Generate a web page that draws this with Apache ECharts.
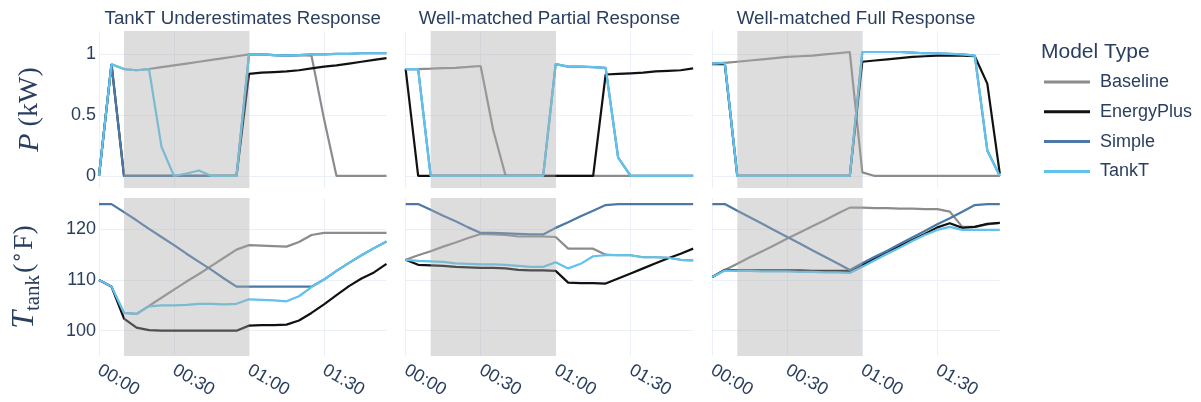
<!DOCTYPE html>
<html>
<head>
<meta charset="utf-8">
<script src="https://cdn.jsdelivr.net/npm/echarts@6/dist/echarts.min.js"></script>
<style>
  html, body { margin: 0; padding: 0; background: #ffffff; }
  #chart { width: 1201px; height: 402px; }
</style>
</head>
<body>
<div id="chart"></div>
<script>
// Sample times (5-minute steps)
const timeLabels = ['00:00','00:05','00:10','00:15','00:20','00:25','00:30','00:35','00:40','00:45','00:50','00:55',
                    '01:00','01:05','01:10','01:15','01:20','01:25','01:30','01:35','01:40','01:45','01:50','01:55'];
const eventWindow = ['00:10', '01:00'];
const panelTitles = ['TankT Underestimates Response', 'Well-matched Partial Response', 'Well-matched Full Response'];
const modelNames = ['Baseline', 'EnergyPlus', 'Simple', 'TankT'];

// Panel 1: TankT underestimates response — power (kW)
const underPowerBaseline   = [0, 0.92, 0.88, 0.87, 0.88, 0.895, 0.91, 0.925, 0.94, 0.955, 0.97, 0.985, 1.0, 1.0, 0.995, 0.99, 0.995, 0.99, 0.47, 0, 0, 0, 0, 0];
const underPowerEnergyPlus = [0, 0.92, 0, 0, 0, 0, 0, 0, 0, 0, 0, 0, 0.84, 0.85, 0.855, 0.86, 0.87, 0.885, 0.9, 0.91, 0.925, 0.94, 0.955, 0.97];
const underPowerSimple     = [0, 0.92, 0, 0, 0, 0, 0, 0, 0, 0, 0, 0, 1.0, 1.0, 0.995, 0.99, 0.995, 1.0, 1.0, 1.005, 1.005, 1.01, 1.01, 1.01];
const underPowerTankT      = [0, 0.92, 0.88, 0.87, 0.88, 0.24, 0, 0.02, 0.045, 0, 0, 0, 1.0, 1.0, 0.995, 0.99, 0.995, 1.0, 1.0, 1.005, 1.005, 1.01, 1.01, 1.01];
// Panel 1 — tank temperature (°F)
const underTempBaseline    = [110, 108.7, 103.5, 103.3, 104.9, 106.5, 108.1, 109.7, 111.2, 112.8, 114.4, 116.0, 116.9, 116.8, 116.7, 116.6, 117.5, 118.9, 119.3, 119.3, 119.3, 119.3, 119.3, 119.3];
const underTempEnergyPlus  = [110, 108.7, 102.4, 100.6, 100.1, 100, 100, 100, 100, 100, 100, 100, 101.0, 101.1, 101.1, 101.2, 102.0, 103.5, 105.2, 107.0, 108.8, 110.3, 111.5, 113.2];
const underTempSimple      = [125, 125, 123.4, 121.8, 120.1, 118.5, 116.9, 115.2, 113.6, 112.0, 110.3, 108.7, 108.7, 108.7, 108.7, 108.7, 108.7, 108.7, 110.1, 111.8, 113.4, 114.9, 116.3, 117.6];
const underTempTankT       = [110, 108.7, 103.5, 103.3, 104.8, 105.0, 105.0, 105.1, 105.3, 105.3, 105.2, 105.3, 106.2, 106.1, 106.0, 105.8, 106.8, 108.6, 110.1, 111.8, 113.4, 114.9, 116.3, 117.6];

// Panel 2: well-matched partial response — power (kW)
const partialPowerBaseline   = [0.88, 0.88, 0.883, 0.887, 0.89, 0.897, 0.905, 0.38, 0, 0, 0, 0, 0, 0, 0, 0, 0, 0, 0, 0, 0, 0, 0, 0];
const partialPowerEnergyPlus = [0.88, 0, 0, 0, 0, 0, 0, 0, 0, 0, 0, 0, 0, 0, 0, 0, 0.835, 0.84, 0.845, 0.85, 0.86, 0.865, 0.87, 0.885];
const partialPowerSimple     = [0.88, 0.88, 0, 0, 0, 0, 0, 0, 0, 0, 0, 0, 0.92, 0.9, 0.9, 0.895, 0.89, 0.15, 0, 0, 0, 0, 0, 0];
const partialPowerTankT      = [0.88, 0.88, 0, 0, 0, 0, 0, 0, 0, 0, 0, 0, 0.92, 0.9, 0.9, 0.895, 0.89, 0.15, 0, 0, 0, 0, 0, 0];
// Panel 2 — tank temperature (°F)
const partialTempBaseline    = [114, 114.9, 115.7, 116.6, 117.4, 118.3, 119.1, 119.0, 118.9, 118.6, 118.6, 118.6, 118.5, 116.2, 116.2, 116.2, 115.0, 114.9, 114.9, 114.5, 114.5, 114.4, 114.0, 113.9];
const partialTempEnergyPlus  = [114, 113.0, 112.9, 112.8, 112.6, 112.5, 112.4, 112.4, 112.3, 112.0, 111.9, 111.9, 111.8, 109.5, 109.4, 109.4, 109.3, 110.3, 111.3, 112.3, 113.3, 114.3, 115.2, 116.2];
const partialTempSimple      = [125, 125, 123.9, 122.7, 121.6, 120.4, 119.3, 119.3, 119.2, 119.1, 119.0, 119.0, 120.3, 121.4, 122.6, 123.7, 124.8, 125, 125, 125, 125, 125, 125, 125];
const partialTempTankT       = [114, 113.8, 113.7, 113.6, 113.3, 113.2, 113.1, 113.1, 113.0, 112.8, 112.6, 112.6, 113.5, 112.3, 113.2, 114.7, 114.9, 114.9, 114.9, 114.5, 114.5, 114.4, 114.0, 113.9];

// Panel 3: well-matched full response — power (kW)
const fullPowerBaseline   = [0.925, 0.93, 0.94, 0.95, 0.96, 0.97, 0.98, 0.985, 0.99, 1.0, 1.01, 1.02, 0.03, 0, 0, 0, 0, 0, 0, 0, 0, 0, 0, 0];
const fullPowerEnergyPlus = [0.92, 0.92, 0, 0, 0, 0, 0, 0, 0, 0, 0, 0, 0.94, 0.95, 0.96, 0.97, 0.98, 0.985, 0.99, 0.99, 0.99, 0.985, 0.76, 0.02];
const fullPowerSimple     = [0.925, 0.93, 0, 0, 0, 0, 0, 0, 0, 0, 0, 0, 1.02, 1.02, 1.02, 1.02, 1.015, 1.01, 1.01, 1.005, 1.0, 0.99, 0.21, 0];
const fullPowerTankT      = [0.925, 0.93, 0, 0, 0, 0, 0, 0, 0, 0, 0, 0, 1.02, 1.02, 1.02, 1.02, 1.015, 1.01, 1.01, 1.005, 1.0, 0.99, 0.21, 0];
// Panel 3 — tank temperature (°F)
const fullTempBaseline    = [110.6, 112.0, 113.2, 114.5, 115.7, 116.9, 118.2, 119.4, 120.6, 121.8, 123.1, 124.3, 124.3, 124.2, 124.2, 124.1, 124.1, 124.0, 124.0, 123.5, 120.5, 120.5, 121.0, 121.3];
const fullTempEnergyPlus  = [110.6, 112.0, 111.9, 111.9, 111.9, 111.9, 111.9, 111.9, 111.8, 111.8, 111.8, 111.8, 113.0, 114.2, 115.5, 116.7, 117.9, 119.1, 120.4, 121.2, 120.3, 120.5, 121.1, 121.3];
const fullTempSimple      = [125, 125, 123.7, 122.4, 121.1, 119.8, 118.5, 117.2, 115.9, 114.6, 113.3, 112.0, 113.3, 114.6, 115.8, 117.1, 118.4, 119.7, 121.0, 122.2, 123.5, 124.8, 125, 125];
const fullTempTankT       = [110.6, 111.9, 111.8, 111.8, 111.7, 111.7, 111.7, 111.6, 111.6, 111.5, 111.5, 111.4, 112.6, 113.9, 115.2, 116.4, 117.7, 118.9, 119.9, 120.5, 119.9, 119.9, 119.9, 119.9];

const panels = [
  { power: [underPowerBaseline, underPowerEnergyPlus, underPowerSimple, underPowerTankT],
    temp:  [underTempBaseline, underTempEnergyPlus, underTempSimple, underTempTankT] },
  { power: [partialPowerBaseline, partialPowerEnergyPlus, partialPowerSimple, partialPowerTankT],
    temp:  [partialTempBaseline, partialTempEnergyPlus, partialTempSimple, partialTempTankT] },
  { power: [fullPowerBaseline, fullPowerEnergyPlus, fullPowerSimple, fullPowerTankT],
    temp:  [fullTempBaseline, fullTempEnergyPlus, fullTempSimple, fullTempTankT] }
];

const modelColors = ['#8c8c8c', '#111111', '#4c78a8', '#5fc3ec'];
const textColor = '#2a3f5f';
const gridColor = '#ebf0f8';
const sansFont = '"Liberation Sans", Arial, sans-serif';
const serifFont = '"Liberation Serif", "DejaVu Serif", serif';

const toMinutes = s => { const [h, m] = s.split(':').map(Number); return h * 60 + m; };
const fmtTime = v => { const h = Math.floor(v / 60), m = Math.round(v % 60); return String(h).padStart(2, '0') + ':' + String(m).padStart(2, '0'); };
const minutes = timeLabels.map(toMinutes);

// Layout: 3 columns x 2 rows
const colLeft = [99, 405.65, 712.3];
const colWidth = 287.5;
const rowTop = [31, 198];
const rowHeight = [157, 158];
const yRange = [{ min: -0.099, max: 1.193, step: 0.5 }, { min: 95.0, max: 126.2, step: 10 }];

const grids = [], xAxes = [], yAxes = [], series = [];
for (let r = 0; r < 2; r++) {
  for (let p = 0; p < 3; p++) {
    const g = grids.length;
    grids.push({ left: colLeft[p], top: rowTop[r], width: colWidth, height: rowHeight[r], containLabel: false });
    xAxes.push({
      gridIndex: g, type: 'value', min: 0, max: toMinutes(timeLabels[timeLabels.length - 1]),
      minInterval: 30, maxInterval: 30,
      axisLine: { show: false }, axisTick: { show: false },
      axisLabel: {
        show: r === 1, rotate: -30, margin: 13, formatter: fmtTime, showMaxLabel: false,
        color: textColor, fontFamily: sansFont, fontSize: 18
      },
      splitLine: { show: true, showMaxLine: false, lineStyle: { color: gridColor, width: 1 } }
    });
    const yr = yRange[r];
    const yAxis = {
      gridIndex: g, type: 'value', min: yr.min, max: yr.max, minInterval: yr.step, maxInterval: yr.step,
      axisLine: { show: false }, axisTick: { show: false },
      axisLabel: { show: p === 0, margin: 3, showMinLabel: false, showMaxLabel: false,
                   color: textColor, fontFamily: sansFont, fontSize: 18 },
      splitLine: { show: true, showMinLine: false, showMaxLine: false, lineStyle: { color: gridColor, width: 1 } }
    };
    if (p === 0) {
      yAxis.nameLocation = 'middle';
      yAxis.nameRotate = 90;
      if (r === 0) {
        yAxis.name = '{i|P}{r| (kW)}';
        yAxis.nameGap = 52;
        yAxis.nameTextStyle = {
          rich: {
            i: { fontFamily: serifFont, fontStyle: 'italic', fontSize: 30, lineHeight: 34, color: textColor },
            r: { fontFamily: serifFont, fontSize: 28, lineHeight: 34, color: textColor }
          }
        };
      } else {
        yAxis.name = '{i|T}{sub|tank}{r|(}{deg|\u2218}{r|F)}';
        yAxis.nameGap = 57;
        yAxis.nameTextStyle = {
          rich: {
            i: { fontFamily: serifFont, fontStyle: 'italic', fontSize: 32, lineHeight: 34, color: textColor },
            sub: { fontFamily: serifFont, fontSize: 21, lineHeight: 20, padding: [16, 2, 0, 0], color: textColor },
            r: { fontFamily: serifFont, fontSize: 28, lineHeight: 34, color: textColor },
            deg: { fontFamily: '"DejaVu Sans", sans-serif', fontSize: 20, lineHeight: 20, padding: [0, 1, 14, 0], color: textColor }
          }
        };
      }
    }
    yAxes.push(yAxis);

    const values = r === 0 ? panels[p].power : panels[p].temp;
    modelNames.forEach((name, k) => {
      series.push({
        type: 'line', name, xAxisIndex: g, yAxisIndex: g,
        data: minutes.map((t, i) => [t, values[k][i]]),
        symbol: 'none', showSymbol: false, animation: false, z: 2,
        lineStyle: { width: 2.2, color: modelColors[k] },
        itemStyle: { color: modelColors[k] }
      });
    });
    // Event window band drawn over the lines
    series.push({
      type: 'line', xAxisIndex: g, yAxisIndex: g, data: [], silent: true, animation: false,
      markArea: {
        silent: true, z: 10, animation: false,
        itemStyle: { color: 'rgba(169,169,169,0.4)', borderWidth: 0 },
        data: [[{ xAxis: toMinutes(eventWindow[0]) }, { xAxis: toMinutes(eventWindow[1]) }]]
      }
    });
  }
}

const titles = panelTitles.map((t, p) => ({
  text: t, left: colLeft[p] + colWidth / 2 - 5, top: 4, textAlign: 'center',
  textStyle: { color: textColor, fontFamily: sansFont, fontSize: 18.7, fontWeight: 'normal' }
}));
titles.push({
  text: 'Model Type', left: 1036, top: 37,
  textStyle: { color: textColor, fontFamily: sansFont, fontSize: 21, fontWeight: 'normal' }
});

const chart = echarts.init(document.getElementById('chart'), null, { renderer: 'canvas' });
chart.setOption({
  animation: false,
  backgroundColor: '#ffffff',
  title: titles,
  legend: {
    data: modelNames, orient: 'vertical', left: 1039, top: 67, icon: 'rect',
    itemWidth: 46, itemHeight: 3, itemGap: 9.8,
    textStyle: { color: textColor, fontFamily: sansFont, fontSize: 18, lineHeight: 20, padding: [0, 0, 0, 5] }
  },
  grid: grids, xAxis: xAxes, yAxis: yAxes, series
});
</script>
</body>
</html>
